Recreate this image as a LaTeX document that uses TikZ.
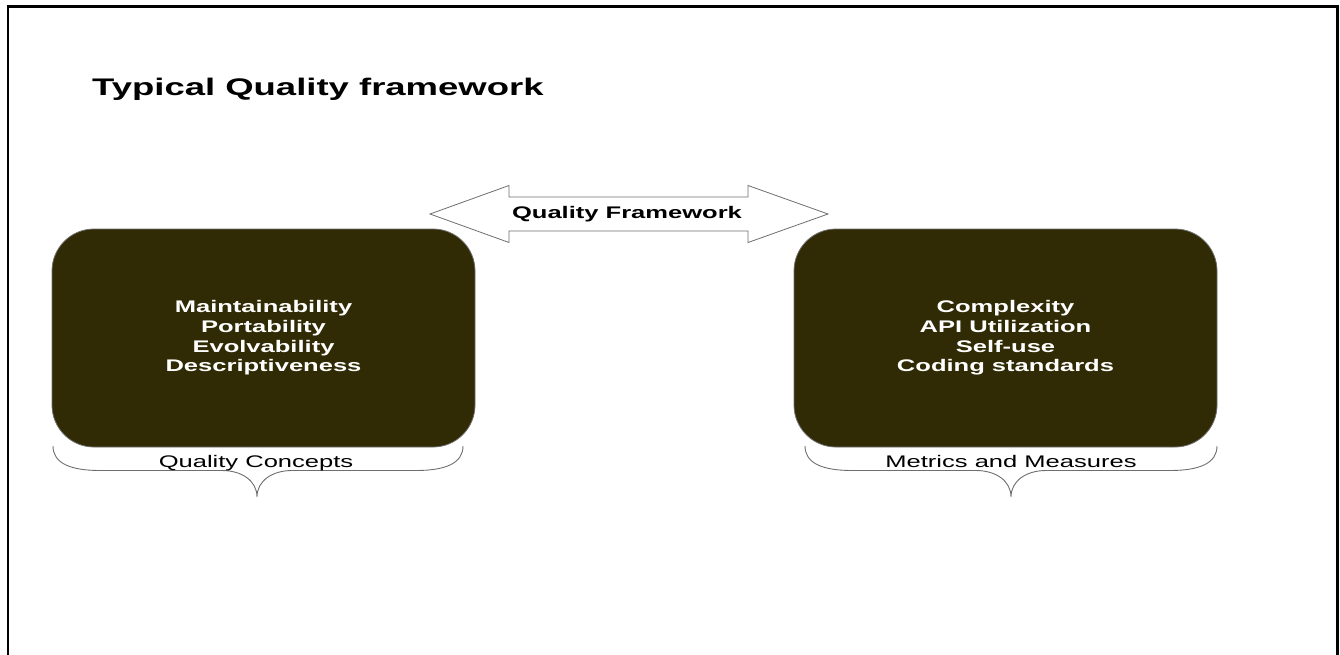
\documentclass[tikz,border=0pt]{standalone}
\usepackage{fontspec}
\setmainfont{Liberation Sans}
\usepackage{graphicx}
\newcommand{\sx}[1]{\scalebox{1.52}[1]{#1}}
\definecolor{boxfill}{RGB}{48,43,4}
\definecolor{linegray}{RGB}{110,110,110}
\tikzset{
  conceptbox/.style={draw=linegray, line width=0.8pt, fill=boxfill, rounded corners=42pt,
    minimum width=423pt, minimum height=218pt, inner sep=0pt, align=center,
    text=white, font=\fontsize{16.8}{19.7}\selectfont\bfseries},
  bracelbl/.style={anchor=base, font=\fontsize{16.8}{19.7}\selectfont, inner sep=0pt},
  bracepath/.style={draw=linegray, line width=0.9pt},
  arrowshape/.style={draw=linegray, line width=0.8pt, fill=white},
}
\begin{document}
\begin{tikzpicture}[x=1pt, y=-1pt]
\useasboundingbox (0,0) rectangle (1340,654);
\clip (0,0) rectangle (1340,654);
% outer frame (open at the bottom)
\draw[line width=2.6pt] (8,660) -- (8,6.3) -- (1337.3,6.3) -- (1337.3,660);
% title
\node[anchor=base west, inner sep=0pt, font=\fontsize{24}{28}\selectfont\bfseries] (title) at (92,95) {\sx{Typical Quality framework}};
% boxes
\node[conceptbox] (lbox) at (263.5,338) {\sx{Maintainability}\\\sx{Portability}\\\sx{Evolvability}\\\sx{Descriptiveness}};
\node[conceptbox] (rbox) at (1005.5,338) {\sx{Complexity}\\\sx{API Utilization}\\\sx{Self-use}\\\sx{Coding standards}};
% double arrow
\draw[arrowshape] (430,214) -- (509,185.5) -- (509,197) -- (748,197) -- (748,185.5) -- (828,214)
  -- (748,242.5) -- (748,231) -- (509,231) -- (509,242.5) -- cycle;
\node[anchor=base, inner sep=0pt, font=\fontsize{16.8}{19.7}\selectfont\bfseries] (fw) at (627,218.5) {\sx{Quality Framework}};
% braces
\draw[bracepath] (53,446) .. controls (53,463) and (70,470.5) .. (100,470.5) -- (222,470.5)
  .. controls (242,470.5) and (257,481) .. (257,497)
  .. controls (257,481) and (272,470.5) .. (292,470.5) -- (416,470.5)
  .. controls (446,470.5) and (463,463) .. (463,446);
\draw[bracepath] (805,446) .. controls (805,463) and (822,470.5) .. (852,470.5) -- (976,470.5)
  .. controls (996,470.5) and (1011,481) .. (1011,497)
  .. controls (1011,481) and (1026,470.5) .. (1046,470.5) -- (1170,470.5)
  .. controls (1200,470.5) and (1217,463) .. (1217,446);
\node[bracelbl] (lcap) at (256,467) {\sx{Quality Concepts}};
\node[bracelbl] (rcap) at (1011,467) {\sx{Metrics and Measures}};
\end{tikzpicture}
\end{document}
